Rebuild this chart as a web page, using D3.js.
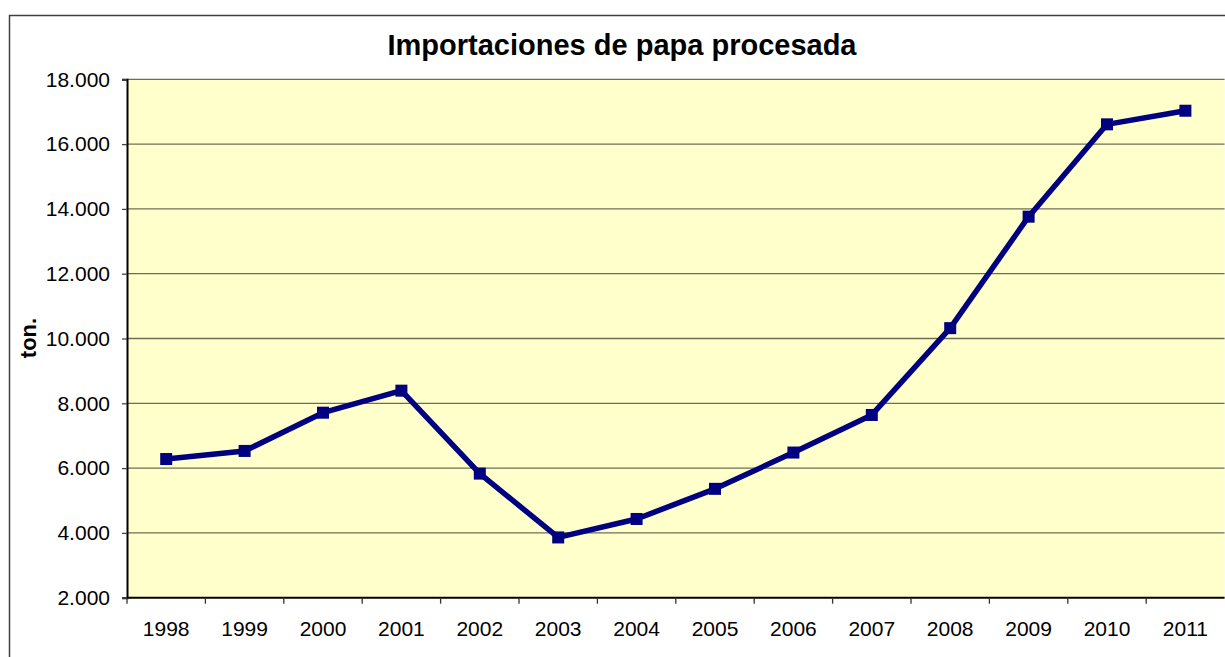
<!DOCTYPE html>
<html>
<head>
<meta charset="utf-8">
<script src="https://cdn.jsdelivr.net/npm/d3@7"></script>
<style>
  html, body { margin: 0; padding: 0; background: #fff; }
  svg { display: block; font-family: Arial, "Liberation Sans", sans-serif; }
</style>
</head>
<body>
<div id="chart"></div>
<script>
// Data (tonnes)
const years = ["1998", "1999", "2000", "2001", "2002", "2003", "2004",
               "2005", "2006", "2007", "2008", "2009", "2010", "2011"];
const imports = [6280, 6530, 7710, 8390, 5830, 3860, 4430,
                 5360, 6480, 7640, 10320, 13760, 16610, 17030];
const yTicks = [2000, 4000, 6000, 8000, 10000, 12000, 14000, 16000, 18000];

const width = 1225, height = 657;
const margin = { top: 79.3, left: 127, bottom: 657 - 597.7 };
const plotRight = 127 + 14 * 78.4;

const svg = d3.select("#chart")
    .append("svg")
    .attr("width", width)
    .attr("height", height);

// outer chart frame
svg.append("rect")
    .attr("x", 9.5).attr("y", 15.5)
    .attr("width", width + 20).attr("height", height + 20)
    .attr("fill", "#fff")
    .attr("stroke", "#404040")
    .attr("stroke-width", 1.5);

// scales
const x = d3.scaleBand()
    .domain(years)
    .range([margin.left, plotRight]);

const y = d3.scaleLinear()
    .domain([2000, 18000])
    .range([height - margin.bottom, margin.top]);

// plot area background
svg.append("rect")
    .attr("x", margin.left)
    .attr("y", margin.top)
    .attr("width", plotRight - margin.left)
    .attr("height", y(2000) - y(18000))
    .attr("fill", "#FFFFCC");

// gridlines
svg.append("g")
    .selectAll("line")
    .data(yTicks.filter(d => d > 2000))
    .join("line")
    .attr("x1", margin.left)
    .attr("x2", plotRight)
    .attr("y1", d => y(d))
    .attr("y2", d => y(d))
    .attr("stroke", "#6e6e58")
    .attr("stroke-width", 1.3);

// y axis
const yAxis = svg.append("g")
    .attr("transform", `translate(${margin.left},0)`)
    .call(d3.axisLeft(y)
        .tickValues(yTicks)
        .tickSize(5)
        .tickPadding(12)
        .tickFormat(d => d3.format(",")(d).replace(/,/g, ".")));

yAxis.select(".domain").attr("stroke", "#000").attr("stroke-width", 2);
yAxis.selectAll(".tick line").attr("stroke", "#444").attr("stroke-width", 1.3);
yAxis.selectAll(".tick text")
    .attr("font-size", 21)
    .attr("fill", "#000")
    .attr("font-family", "Arial, 'Liberation Sans', sans-serif");

// x axis: ticks sit between categories
const xAxis = svg.append("g")
    .attr("transform", `translate(0,${y(2000)})`);

xAxis.append("line")
    .attr("x1", margin.left)
    .attr("x2", plotRight)
    .attr("stroke", "#000")
    .attr("stroke-width", 2);

xAxis.selectAll("line.tick")
    .data(years)
    .join("line")
    .attr("class", "tick")
    .attr("x1", d => x(d))
    .attr("x2", d => x(d))
    .attr("y1", 0)
    .attr("y2", 6)
    .attr("stroke", "#333")
    .attr("stroke-width", 1.3);

xAxis.selectAll("text")
    .data(years)
    .join("text")
    .attr("x", d => x(d) + x.bandwidth() / 2)
    .attr("y", 38.5)
    .attr("text-anchor", "middle")
    .attr("font-size", 21)
    .attr("fill", "#000")
    .text(d => d);

// line series
const line = d3.line()
    .x((d, i) => x(years[i]) + x.bandwidth() / 2)
    .y(d => y(d));

svg.append("path")
    .datum(imports)
    .attr("d", line)
    .attr("fill", "none")
    .attr("stroke", "#000080")
    .attr("stroke-width", 5.5)
    .attr("stroke-linejoin", "round");

// square markers
const m = 12;
svg.append("g")
    .selectAll("rect")
    .data(imports)
    .join("rect")
    .attr("x", (d, i) => x(years[i]) + x.bandwidth() / 2 - m / 2)
    .attr("y", d => y(d) - m / 2)
    .attr("width", m)
    .attr("height", m)
    .attr("fill", "#000080");

// title
svg.append("text")
    .attr("x", 622)
    .attr("y", 54.5)
    .attr("text-anchor", "middle")
    .attr("font-size", 29)
    .attr("font-weight", "bold")
    .text("Importaciones de papa procesada");

// y axis label
svg.append("text")
    .attr("transform", `translate(36,338) rotate(-90)`)
    .attr("text-anchor", "middle")
    .attr("font-size", 22)
    .attr("font-weight", "bold")
    .text("ton.");
</script>
</body>
</html>
